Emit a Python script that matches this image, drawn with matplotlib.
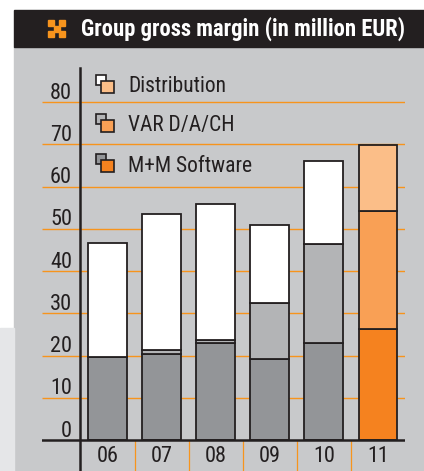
import matplotlib.pyplot as plt
from matplotlib.patches import Rectangle

plt.rcParams['font.family'] = ['Roboto Condensed', 'Liberation Sans Narrow',
                               'Arial Narrow', 'Roboto', 'DejaVu Sans']

years = ['06', '07', '08', '09', '10', '11']
mm_software = [19.7, 20.3, 22.9, 19.1, 22.9, 26.2]
var_dach = [0.0, 0.9, 0.8, 13.4, 23.4, 28.0]
distribution = [27.0, 32.4, 32.2, 18.5, 19.8, 15.7]
yticks = [0, 10, 20, 30, 40, 50, 60, 70, 80]
series = ['Distribution', 'VAR D/A/CH', 'M+M Software']

ORANGE = '#f7941d'
DARK = '#231f20'
PANEL = '#c8c9cb'
grey_cols = ['#939598', '#b3b4b6', '#ffffff']      # M+M, VAR, Distribution (06-10)
orange_cols = ['#f5821f', '#f9a055', '#fbbe88']    # M+M, VAR, Distribution (11)

W, H = 424, 471
fig = plt.figure(figsize=(W / 100, H / 100), dpi=100)

# background / frame in pixel coordinates
bg = fig.add_axes([0, 0, 1, 1])
bg.set_xlim(0, W)
bg.set_ylim(H, 0)
bg.axis('off')
bg.add_patch(Rectangle((0, 0), W, H, color='white'))
bg.add_patch(Rectangle((14, 47), W - 14, H - 47, color=PANEL))
bg.add_patch(Rectangle((0, 328), 14, H - 328, color='#e5e6e8'))
bg.add_patch(Rectangle((14, 10), W - 14, 37, color=DARK))
# title icon
for ix, iy in [(48, 20), (59, 20), (48, 31), (59, 31)]:
    bg.add_patch(Rectangle((ix, iy), 6, 6, color=ORANGE))
bg.add_patch(Rectangle((53.5, 25.5), 6, 6, color=ORANGE))
bg.text(81, 29, 'Group gross margin (in million EUR)', color='white',
        fontsize=16.3, fontweight='bold', va='center', ha='left')

# legend
leg_y = [75, 114, 154]
for k, (name, y) in enumerate(zip(series, leg_y)):
    idx = 2 - k
    bg.add_patch(Rectangle((96, y), 10, 10, facecolor=grey_cols[idx],
                           edgecolor=DARK, lw=1.2, zorder=2))
    bg.add_patch(Rectangle((101, y + 6), 13, 12, facecolor=orange_cols[idx],
                           edgecolor=DARK, lw=1.2, zorder=3))
    bg.text(128, y + 12, name, fontsize=15.5, color=DARK, va='center', ha='left')

# data axes
x0, dx, y0, dy = 107.5, 54.1, 440, 4.225
xl = ((42 - x0) / dx, (405 - x0) / dx)
yl = ((y0 - H) / dy, (y0 - 47) / dy)
ax = fig.add_axes([42 / W, 0, (405 - 42) / W, (H - 47) / H])
ax.set_xlim(*xl)
ax.set_ylim(*yl)
ax.axis('off')
ax.patch.set_alpha(0)

x = list(range(len(years)))
ax.hlines(yticks[1:], xl[0], xl[1], color=ORANGE, lw=1.0, zorder=1)
for t in yticks:
    ax.text((72 - x0) / dx, t - 0.4, str(t), fontsize=16, color=DARK,
            ha='right', va='bottom')

cols = [[grey_cols[j] if i < 5 else orange_cols[j] for i in x] for j in range(3)]
bottom = [0.0] * len(years)
for j, vals in enumerate([mm_software, var_dach, distribution]):
    ax.bar(x, vals, width=0.72, bottom=bottom, color=cols[j],
           edgecolor=DARK, lw=1.3, zorder=3)
    bottom = [b + v for b, v in zip(bottom, vals)]

ax.plot([xl[0], xl[1]], [0, 0], color=DARK, lw=1.8, zorder=5)
ax.plot([-0.5, -0.5], [yl[0], 88], color=DARK, lw=1.8, zorder=5)
ax.vlines([i + 0.5 for i in x[:-1]], yl[0], 0, color=ORANGE, lw=0.9, zorder=2)
for i, lab in zip(x, years):
    ax.text(i, -4.0, lab, fontsize=16, color=DARK, ha='center', va='center')

fig.savefig('out.png', dpi=100)
